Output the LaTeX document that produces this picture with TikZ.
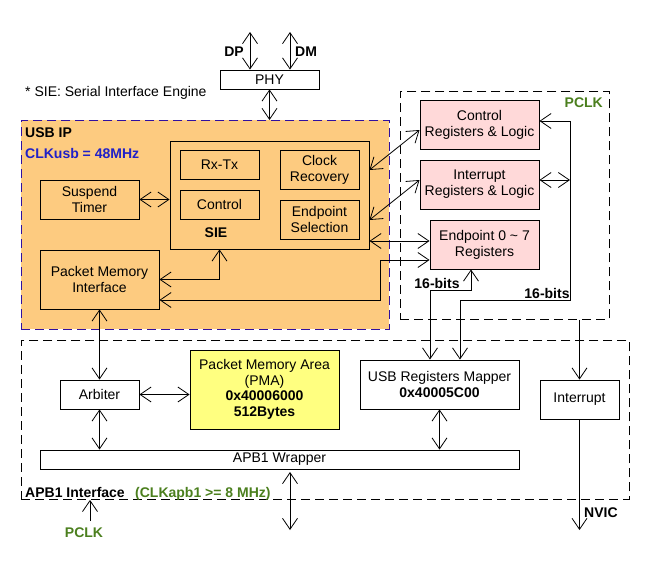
\documentclass[tikz,border=0pt]{standalone}
\usepackage{fontspec}
\setmainfont{Liberation Sans}
\usetikzlibrary{arrows.meta}
\definecolor{usborange}{HTML}{FDCB80}
\definecolor{regpink}{HTML}{FFD9D9}
\definecolor{pmayellow}{HTML}{FFFF80}
\definecolor{clkgreen}{HTML}{4B7F1E}
\definecolor{clkblue}{HTML}{2020C8}
\definecolor{ipborder}{HTML}{3010A0}
\tikzset{
  x=1pt, y=-1pt,
  every node/.style={font=\fontsize{14}{16}\selectfont, inner sep=0pt},
  box/.style={draw, line width=0.9pt, align=center},
  conn/.style={line width=0.8pt, {Straight Barb[length=11pt,width=15pt]}-{Straight Barb[length=11pt,width=15pt]}},
  conn1/.style={line width=0.8pt, -{Straight Barb[length=11pt,width=15pt]}},
  lbl/.style={font=\fontsize{14}{16}\selectfont\bfseries},
  region/.style={dashed, dash pattern=on 9pt off 5pt, line width=0.9pt},
}
\begin{document}
\begin{tikzpicture}
\useasboundingbox (0,0) rectangle (650,570);
% regions
\node[region, draw=ipborder, fill=usborange, minimum width=368pt, minimum height=209pt, anchor=north west] (usbip) at (21,120) {};
\node[region, draw=black, minimum width=209pt, minimum height=228pt, anchor=north west] (pclkbox) at (400,91) {};
\node[region, draw=black, minimum width=608pt, minimum height=159pt, anchor=north west] (apb) at (21,340) {};
% boxes
\node[box, fill=white, minimum width=99pt, minimum height=19pt] (phy) at (269.5,79.5) {PHY};
\node[box, minimum width=199pt, minimum height=108pt] (sie) at (269.5,195) {};
\node[box, minimum width=79pt, minimum height=29pt] (rxtx) at (219.5,164.5) {Rx-Tx};
\node[box, minimum width=79pt, minimum height=29pt] (ctl) at (219.5,204.5) {Control};
\node[box, minimum width=79pt, minimum height=39pt] (clkrec) at (319.5,169.5) {Clock\\Recovery};
\node[box, minimum width=79pt, minimum height=39pt] (epsel) at (319.5,219.5) {Endpoint\\Selection};
\node[box, minimum width=99pt, minimum height=39pt] (susp) at (89.5,199.5) {Suspend\\Timer};
\node[box, minimum width=119pt, minimum height=59pt] (pmi) at (99.5,279.5) {Packet Memory\\Interface};
\node[box, fill=regpink, minimum width=119pt, minimum height=49pt] (ctrl) at (479.5,124.5) {Control\\Registers \& Logic};
\node[box, fill=regpink, minimum width=119pt, minimum height=49pt] (intr) at (479.5,184.5) {Interrupt\\Registers \& Logic};
\node[box, fill=regpink, minimum width=109pt, minimum height=49pt] (eprs) at (484.5,244.5) {Endpoint 0 \textasciitilde\ 7\\Registers};
\node[box, fill=white, minimum width=79pt, minimum height=29pt] (arb) at (99.5,394.5) {Arbiter};
\node[box, fill=pmayellow, minimum width=149pt, minimum height=79pt, align=center, font=\fontsize{14}{15.5}\selectfont] (pma) at (264.5,389.5) {Packet Memory Area\\(PMA)\\\textbf{0x40006000}\\\textbf{512Bytes}};
\node[box, fill=white, minimum width=159pt, minimum height=49pt] (urm) at (439.5,384.5) {USB Registers Mapper\\\textbf{0x40005C00}};
\node[box, fill=white, minimum width=79pt, minimum height=39pt] (intbox) at (579.5,399.5) {Interrupt};
\node[box, fill=white, minimum width=479pt, minimum height=19pt] (wrap) at (279.5,459.5) {APB1 Wrapper};
% labels
\node[lbl, anchor=east] (dpl) at (244,52) {DP};
\node[lbl, anchor=west] (dml) at (295,52) {DM};
\node[anchor=west] (note) at (25,93) {* SIE: Serial Interface Engine};
\node[lbl, anchor=west] (usbipl) at (25,133) {USB IP};
\node[lbl, anchor=west, text=clkblue] (clkusb) at (25,153) {CLKusb = 48MHz};
\node[lbl] (siel) at (216,233) {SIE};
\node[lbl, anchor=east, text=clkgreen] (pclk1) at (603,103) {PCLK};
\node[lbl] (bits1) at (437,283) {16-bits};
\node[lbl] (bits2) at (547,293) {16-bits};
\node[lbl, anchor=base west] (apbl) at (25,497) {APB1 Interface};
\node[lbl, anchor=base west, text=clkgreen] (apbclk) at (135,497) {(CLKapb1 >= 8 MHz)};
\node[lbl, text=clkgreen] (pclk2) at (84,533) {PCLK};
\node[lbl, anchor=west] (nvicl) at (584,513) {NVIC};
% free ends
\coordinate (dpend) at (250,32);
\coordinate (dmend) at (290,32);
\coordinate (b1) at (430,290);
\coordinate (b2) at (570,300);
\coordinate (bus3) at (380,300);
\coordinate (wend) at (290,530);
\coordinate (wtop) at (290,472);
\coordinate (nvicend) at (580,530);
\coordinate (pclkfoot) at (90,521);
\coordinate (ep1) at ([yshift=3.5pt]eprs.west);
\coordinate (ep2) at ([yshift=-15.5pt]eprs.west);
\coordinate (ct1) at ([yshift=3.5pt]ctrl.east);
\coordinate (it1) at ([yshift=4.5pt]intr.east);
% connectors
\draw[conn] (dpend) -- (dpend |- phy.north);
\draw[conn] (dmend) -- (dmend |- phy.north);
\draw[conn] (phy.south) -- (phy.south |- usbip.north);
\draw[conn] (susp.east) -- (susp.east -| sie.west);
\draw[conn] (pmi.east) -| (ctl.south |- sie.south);
\draw[conn] ([yshift=-20.5pt]pmi.east) -| (bus3 |- ep2) -- (ep2);
\draw[conn] (ep1 -| sie.east) -- (ep1);
\draw[conn] ([yshift=25pt]sie.east) -- ([yshift=-5.5pt]ctrl.west);
\draw[conn] ([yshift=-25pt]sie.east) -- ([yshift=4.5pt]intr.west);
\draw[conn] (ct1) -| (b2) -| ([xshift=20.5pt]urm.north);
\draw[conn] (it1) -- (it1 -| b2);
\draw[conn] ([xshift=-13.5pt]eprs.south) |- (b1) -- (b1 |- urm.north);
\draw[conn1] (intbox.north |- pclkbox.south) -- (intbox.north);
\draw[conn1] (intbox.south) -- (intbox.south |- nvicend);
\draw[conn] (pmi.south) -- (arb.north);
\draw[conn] (arb.east) -- (arb.east -| pma.west);
\draw[conn] (arb.south) -- (arb.south |- wrap.north);
\draw[conn] (urm.south) -- (urm.south |- wrap.north);
\draw[conn] (wtop) -- (wend);
\draw[conn1] (pclkfoot) -- (pclkfoot |- apb.south);
\end{tikzpicture}
\end{document}
